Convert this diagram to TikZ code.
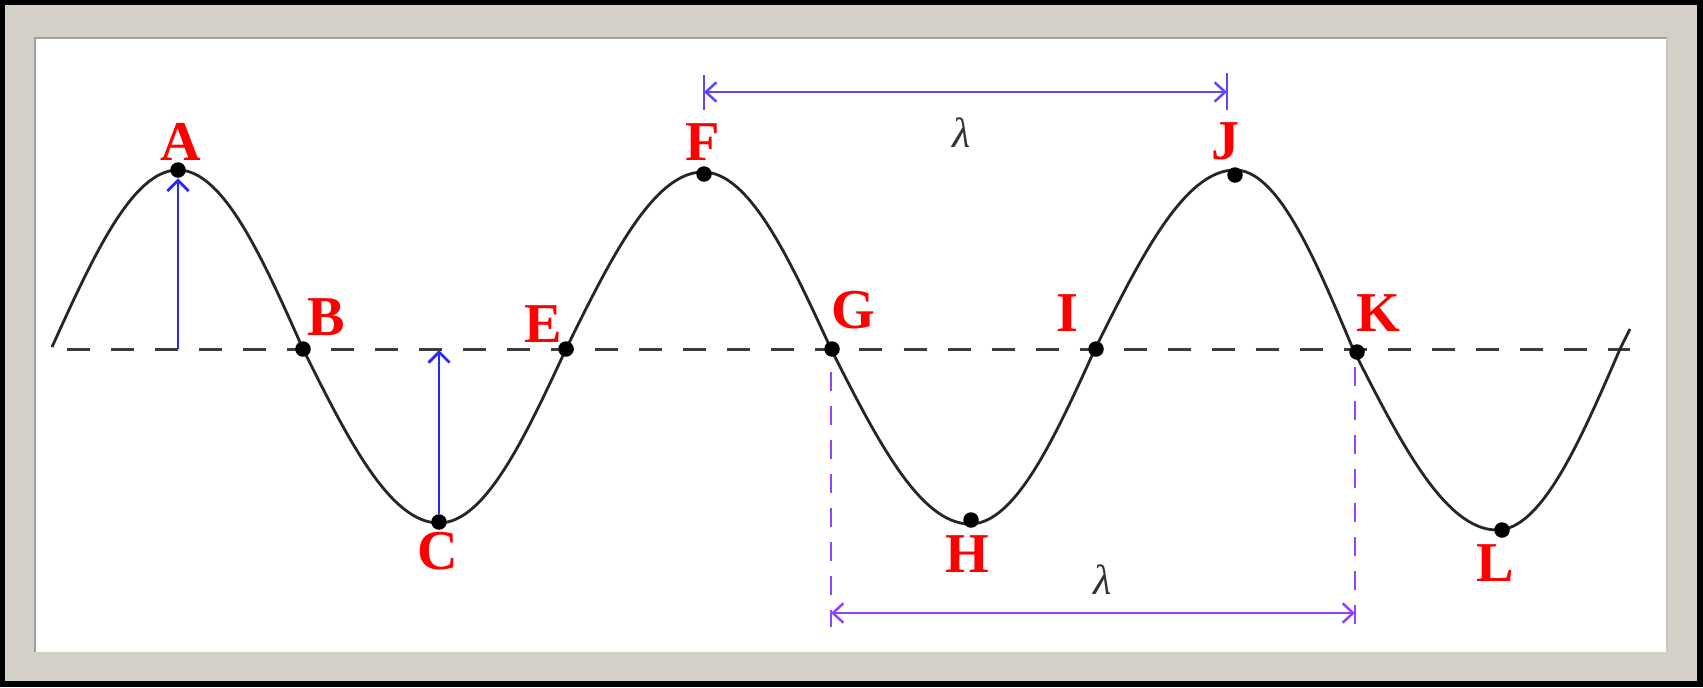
\documentclass[tikz,border=0pt]{standalone}
\usepackage{fontspec}
\setmainfont{Liberation Serif}
\usetikzlibrary{arrows.meta}
\definecolor{framegray}{RGB}{212,208,200}
\definecolor{ampblue}{RGB}{40,40,255}
\definecolor{topblue}{RGB}{95,70,255}
\definecolor{botviol}{RGB}{145,65,255}
\definecolor{axisgray}{RGB}{60,60,60}
\begin{document}
\begin{tikzpicture}[x=0.01cm,y=-0.01cm,
  dot/.style={circle,fill=black,inner sep=0pt,minimum size=0.155cm},
  lbl/.style={text=red,font=\fontsize{16}{18}\selectfont\bfseries,inner sep=0pt},
  lam/.style={font=\fontsize{12}{14}\selectfont\itshape,text=black!80,inner sep=0pt},
  amp/.style={draw=ampblue,line width=0.8pt,-{Straight Barb[length=3pt,width=6pt]}},
  dimline/.style={line width=0.7pt,{Straight Barb[length=3pt,width=5.5pt]}-{Straight Barb[length=3pt,width=5.5pt]}},
  tick/.style={line width=0.8pt},
  ext/.style={draw=botviol,line width=0.8pt,dash pattern=on 0.19cm off 0.15cm},
  wave/.style={draw=black!85,line width=0.8pt},
  axisline/.style={draw=axisgray,line width=0.85pt,dash pattern=on 0.23cm off 0.21cm}
]
\useasboundingbox (0,0) rectangle (1703,687);
% frame
\fill[black] (0,0) rectangle (1703,687);
\fill[framegray] (5,5) rectangle (1697,681);
\fill[white] (35,38) rectangle (1667,652);
\draw[gray!75,line width=0.6pt] (35,652) -- (35,38) -- (1667,38);
\draw[gray!45,line width=0.6pt] (1667,38) -- (1667,652);

% axis
\coordinate (axL) at (67,349);
\coordinate (axR) at (1630,349);
\draw[axisline] (axL) -- (axR);

% wave
\draw[wave] (52,347) sin (178,170) cos (303,349) sin (439,523) cos (566,349)
  sin (703,172) cos (831,349) sin (970,524) cos (1095,349)
  sin (1235,170) cos (1353,349) sin (1497,530) cos (1620,349) -- (1630,329);

% dots
\node[dot] (A) at (178,170) {};
\node[dot] (B) at (303,349) {};
\node[dot] (C) at (439,522) {};
\node[dot] (E) at (566,349) {};
\node[dot] (F) at (704,174) {};
\node[dot] (G) at (832,349) {};
\node[dot] (H) at (971,520) {};
\node[dot] (I) at (1096,349) {};
\node[dot] (J) at (1235,175) {};
\node[dot] (K) at (1357,352) {};
\node[dot] (L) at (1502,530) {};

% labels
\node[lbl] (lA) at (181,142) {A};
\node[lbl] (lB) at (326,317) {B};
\node[lbl] (lC) at (438,551) {C};
\node[lbl] (lE) at (543,324) {E};
\node[lbl] (lF) at (703,142) {F};
\node[lbl] (lG) at (853,310) {G};
\node[lbl] (lH) at (967,554) {H};
\node[lbl] (lI) at (1067,313) {I};
\node[lbl] (lJ) at (1226,141) {J};
\node[lbl] (lK) at (1378,313) {K};
\node[lbl] (lL) at (1495,563) {L};

% amplitude arrows
\coordinate (A0) at (178,349);
\coordinate (C0) at (439,350);
\draw[amp] (A0) -- (A);
\draw[amp] (C) -- (C0);

% top wavelength
\coordinate (T1) at (704,92);
\coordinate (T2) at (1227,92);
\draw[topblue,tick] (T1) ++(0,-17) -- ++(0,35);
\draw[topblue,tick] (T2) ++(0,-19) -- ++(0,37);
\draw[topblue,dimline] (T1) -- (T2);
\node[lam] (lam1) at (962,133) {λ};

% bottom wavelength
\coordinate (G1) at (831,613);
\coordinate (K1) at (1355,613);
\coordinate (Gd) at (831,627);
\coordinate (Kd) at (1355,627);
\draw[ext] (831,372) -- (Gd);
\draw[ext] (1355,367) -- (Kd);
\draw[botviol,dimline] (G1) -- (K1);
\node[lam] (lam2) at (1103,580) {λ};
\end{tikzpicture}
\end{document}
